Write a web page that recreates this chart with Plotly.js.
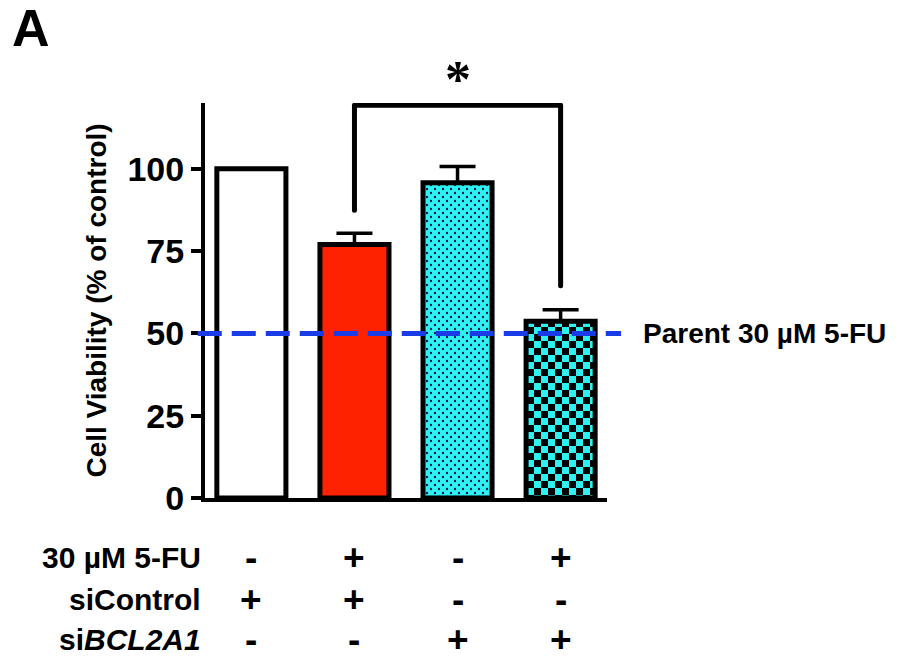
<!DOCTYPE html>
<html><head><meta charset="utf-8">
<script src="https://cdn.plot.ly/plotly-3.0.1.min.js"></script>
<style>html,body{margin:0;padding:0;background:#fff}</style>
</head><body><div id="chart" style="width:909px;height:659px"></div>
<script>
// ---- data ----
const groups = [0, 1, 2, 3];
const viability = [100, 77.0, 95.8, 53.7];
const sem = [0, 3.4, 4.9, 3.5];
const barColors = ['#ffffff', '#ff2200', '#2ef2f2', '#2ef2f2'];
const barPatterns = ['', '', '.', '+'];
const fuRow = ['-', '+', '-', '+'];
const siControlRow = ['+', '+', '-', '-'];
const siBCL2A1Row = ['-', '-', '+', '+'];
const rowLabels = ['30 µM 5-FU', 'siControl', 'si<i>BCL2A1</i>'];
const parentLevel = 50;
const parentLabel = 'Parent 30 µM 5-FU';
const bracketX = [1, 1, 3, 3];
const bracketY = [87.4, 119.3, 119.3, 64.5];
const sigLabel = '*';
const yTicks = [0, 25, 50, 75, 100];
const yTitle = 'Cell Viability (% of control)';
const panelLabel = 'A';

// ---- styling ----
const FONT = 'Liberation Sans, Arial, Helvetica, sans-serif';
const rows = [fuRow, siControlRow, siBCL2A1Row];
const rowY = [-0.150, -0.256, -0.357];

const traces = [
  {
    type: 'bar', x: groups, y: viability, width: 0.67,
    marker: {
      color: barColors,
      line: {color: '#000', width: 5},
      pattern: {shape: barPatterns, fillmode: 'replace', fgcolor: '#111', bgcolor: barColors,
                size: [8, 8, 8, 14], solidity: [0.3, 0.3, 0.1, 0.5]}
    },
    error_y: {type: 'data', array: sem, arrayminus: sem.map(() => 0), symmetric: false,
              color: '#000', thickness: 3.5, width: 18},
    hoverinfo: 'skip', showlegend: false
  },
  {
    type: 'scatter', mode: 'lines', x: bracketX, y: bracketY,
    line: {color: '#000', width: 5}, hoverinfo: 'skip', showlegend: false
  }
];

const annotations = [
  {text: '<b>' + panelLabel + '</b>', xref: 'paper', yref: 'paper', x: -0.485, y: 1.19,
   xanchor: 'left', yanchor: 'middle', showarrow: false, font: {family: FONT, size: 52, color: '#000'}},
  {text: '<b>' + sigLabel + '</b>', xref: 'x', yref: 'y', x: 2, y: bracketY[1], yshift: 26, xanchor: 'center', yanchor: 'middle',
   showarrow: false, font: {family: 'Liberation Serif, Times New Roman, serif', size: 52, color: '#000'}},
  {text: '<b>' + parentLabel + '</b>', xref: 'paper', yref: 'y', x: 1.085, y: parentLevel,
   xanchor: 'left', yanchor: 'middle', showarrow: false, font: {family: FONT, size: 28, color: '#000'}}
];
rowLabels.forEach((lab, i) => {
  annotations.push({text: '<b>' + lab + '</b>', xref: 'paper', yref: 'paper', x: -0.005, y: rowY[i],
    xanchor: 'right', yanchor: 'middle', showarrow: false, font: {family: FONT, size: 30, color: '#000'}});
  rows[i].forEach((s, j) => {
    annotations.push({text: '<b>' + s + '</b>', xref: 'x', yref: 'paper', x: groups[j], y: rowY[i],
      xanchor: 'center', yanchor: 'middle', showarrow: false, font: {family: FONT, size: 37, color: '#000'}});
  });
});

const layout = {
  width: 909, height: 659,
  margin: {l: 205, r: 302, t: 103, b: 161},
  paper_bgcolor: '#fff', plot_bgcolor: '#fff',
  showlegend: false,
  xaxis: {range: [-0.45, 3.45], showticklabels: false, ticks: '', showline: true, linewidth: 4,
          linecolor: '#000', showgrid: false, zeroline: false, fixedrange: true},
  yaxis: {range: [0, 120], tickvals: yTicks, ticks: 'outside', ticklen: 10, tickwidth: 4, tickcolor: '#000',
          showline: true, linewidth: 4, linecolor: '#000', showgrid: false, zeroline: false, fixedrange: true,
          tickfont: {family: FONT, size: 34, weight: 'bold', color: '#000'},
          title: {text: yTitle, standoff: 14, font: {family: FONT, size: 28, weight: 'bold', color: '#000'}}},
  shapes: [
    {type: 'line', xref: 'paper', yref: 'y', x0: -0.018, x1: 1.035, y0: parentLevel, y1: parentLevel,
     line: {color: '#1a3ce6', width: 5, dash: '24px,10px'}, layer: 'above'}
  ],
  annotations: annotations
};

function restylePattern(idx, size, draw) {
  const paths = document.querySelectorAll('.barlayer .trace .point path');
  const p = paths[idx];
  if (!p) return;
  const fill = p.style.fill || p.getAttribute('fill') || '';
  const m = fill.match(/#([^"')]+)/);
  if (!m) return;
  const pat = document.getElementById(m[1]);
  if (!pat) return;
  while (pat.firstChild) pat.removeChild(pat.firstChild);
  pat.setAttribute('width', size); pat.setAttribute('height', size);
  draw(pat, 'http://www.w3.org/2000/svg');
}

Plotly.newPlot('chart', traces, layout, {staticPlot: true}).then(() => {
  // round line ends of the significance bracket
  document.querySelectorAll('.scatterlayer .js-line').forEach(l => {
    l.style.strokeLinecap = 'round'; l.style.strokeLinejoin = 'round';
  });
  // checkerboard for bar 4
  restylePattern(3, 14, (pat, ns) => {
    const mk = (x, y, w, c) => { const r = document.createElementNS(ns, 'rect');
      r.setAttribute('x', x); r.setAttribute('y', y); r.setAttribute('width', w); r.setAttribute('height', w);
      r.setAttribute('fill', c); pat.appendChild(r); };
    mk(0, 0, 14, barColors[3]); mk(0, 0, 7, '#000'); mk(7, 7, 7, '#000');
  });
  // staggered dots for bar 3
  restylePattern(2, 8, (pat, ns) => {
    const bg = document.createElementNS(ns, 'rect');
    bg.setAttribute('width', 8); bg.setAttribute('height', 8); bg.setAttribute('fill', barColors[2]);
    pat.appendChild(bg);
    [[2, 2], [6, 6]].forEach(([cx, cy]) => { const c = document.createElementNS(ns, 'circle');
      c.setAttribute('cx', cx); c.setAttribute('cy', cy); c.setAttribute('r', 1.2);
      c.setAttribute('fill', '#10204a'); pat.appendChild(c); });
  });
});
</script></body></html>
